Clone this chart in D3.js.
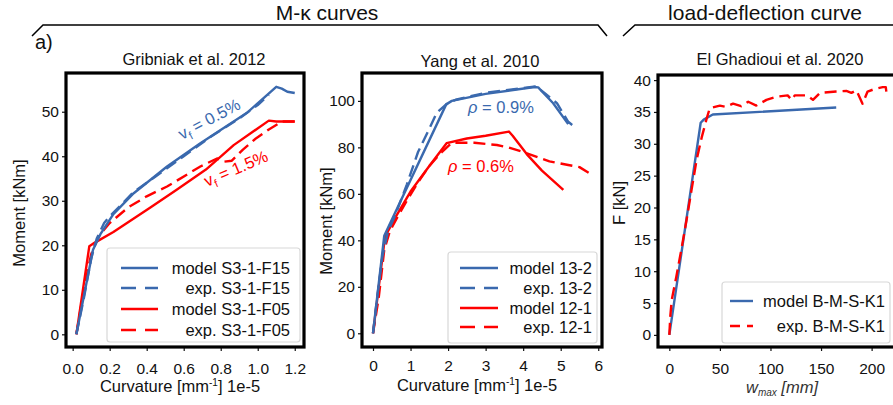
<!DOCTYPE html>
<html>
<head>
<meta charset="utf-8">
<script src="https://cdn.jsdelivr.net/npm/d3@7/dist/d3.min.js"></script>
<style>
  body { margin: 0; background: #fff; }
  text { font-family: "Liberation Sans", Arial, sans-serif; }
</style>
</head>
<body>
<div id="chart"></div>
<script>
// ---- Gribniak et al. 2012 (curvature 1e-5 1/mm, moment kNm)
const gribModelF15X = [0.02, 0.11, 0.15, 0.22, 0.33, 0.51, 0.69, 0.94, 1.10, 1.13, 1.16, 1.2];
const gribModelF15Y = [0, 19, 22.5, 27, 31.7, 37.7, 42.9, 49.7, 55.6, 55.2, 54.5, 54.2];
const gribExpF15X = [0.02, 0.06, 0.1, 0.13, 0.17, 0.2, 0.26, 0.33, 0.45, 0.6, 0.75, 0.9, 1.0, 1.06];
const gribExpF15Y = [0, 8, 17, 21.5, 25, 26.5, 29, 32, 35.5, 40, 44.5, 48.5, 51.5, 53.8];
const gribModelF05X = [0.02, 0.09, 0.12, 0.22, 0.42, 0.56, 0.72, 0.87, 1.06, 1.1, 1.2];
const gribModelF05Y = [0, 19.8, 20.6, 23, 28.5, 32.4, 37, 42.5, 48, 47.8, 47.8];
const gribExpF05X = [0.02, 0.06, 0.1, 0.14, 0.2, 0.3, 0.4, 0.51, 0.69, 0.78, 0.82, 0.86, 0.92, 0.99, 1.06, 1.13, 1.2];
const gribExpF05Y = [0, 10, 18, 22, 25, 28.5, 31, 33.2, 37.7, 39.5, 38.8, 39, 41.5, 44, 46, 47.8, 47.8];
const gribXTicks = [0, 0.2, 0.4, 0.6, 0.8, 1.0, 1.2];
const gribXTickLabels = ["0.0", "0.2", "0.4", "0.6", "0.8", "1.0", "1.2"];
const gribYTicks = [0, 10, 20, 30, 40, 50];

// ---- Yang et al. 2010
const yangModel132X = [0, 0.3, 1.95, 2.1, 3, 4.3, 4.4, 4.8, 5.2];
const yangModel132Y = [0, 42, 98.5, 100, 103, 106, 105.8, 99, 90];
const yangExp132X = [0, 0.1, 0.25, 0.4, 0.6, 0.9, 1.2, 1.5, 1.7, 1.95, 2.2, 2.6, 3, 3.5, 4, 4.35, 4.6, 4.9, 5.2, 5.42];
const yangExp132Y = [0, 14, 33, 44, 51, 64, 78, 88, 95, 98.5, 100.5, 102, 103.5, 104.5, 105.5, 106.2, 103, 99, 91, 88.2];
const yangModel121X = [0, 0.32, 0.6, 1, 1.5, 1.96, 2.5, 3, 3.62, 3.72, 4.1, 4.5, 5.07];
const yangModel121Y = [0, 41.6, 50, 61, 72, 81.8, 83.8, 85, 86.8, 85, 77, 70, 61.7];
const yangExp121X = [0, 0.15, 0.3, 0.45, 0.65, 0.9, 1.2, 1.5, 1.8, 2.1, 2.7, 3.3, 3.6, 4, 4.7, 5.2, 5.5, 5.8];
const yangExp121Y = [0, 15, 36, 44, 50, 57, 65, 72, 77.5, 82, 82, 81, 80, 78, 74, 72.4, 71.5, 68.5];
const yangXTicks = [0, 1, 2, 3, 4, 5, 6];
const yangYTicks = [0, 20, 40, 60, 80, 100];

// ---- El Ghadioui et al. 2020 (w_max mm, F kN)
const ghadModelX = [0, 31, 34, 43, 165];
const ghadModelY = [0, 33.3, 33.8, 34.6, 35.7];
const ghadExpX = [0, 1, 2.4, 7, 12, 17, 22, 27, 32, 37, 40, 45, 50, 56, 63, 71, 78, 86, 96, 106, 117, 121, 124, 136, 142, 149, 165, 175, 180, 185, 191, 196, 203, 211, 214, 215];
const ghadExpY = [0, 3, 5.5, 9.2, 13.5, 18, 22.8, 27.5, 31, 34, 35.6, 35.8, 36, 35.8, 36.3, 35.9, 36.6, 36, 36.9, 37.4, 37.6, 36.9, 37.6, 37.6, 36.9, 38, 38.2, 38.3, 38, 38.4, 36.3, 38.2, 38.6, 38.9, 38.9, 37.6];
const ghadXTicks = [0, 50, 100, 150, 200];
const ghadYTicks = [0, 5, 10, 15, 20, 25, 30, 35, 40];

const BLUE = "#3a69ae";
const RED = "#ff0000";
const INK = "#111";

const svg = d3.select("#chart").append("svg")
  .attr("width", 893)
  .attr("height", 405);

function zip(xs, ys) { return xs.map((x, i) => [x, ys[i]]); }

let clipId = 0;
function drawPanel(cfg) {
  const x = d3.scaleLinear().domain(cfg.xDomain).range([cfg.box.l, cfg.box.r]);
  const y = d3.scaleLinear().domain(cfg.yDomain).range([cfg.box.b, cfg.box.t]);

  const id = "clip" + (clipId++);
  svg.append("clipPath").attr("id", id)
    .append("rect")
    .attr("x", cfg.box.l).attr("y", cfg.box.t)
    .attr("width", cfg.box.r - cfg.box.l).attr("height", cfg.box.b - cfg.box.t);

  const line = d3.line().x(d => x(d[0])).y(d => y(d[1]));
  const plot = svg.append("g").attr("clip-path", `url(#${id})`);
  cfg.series.forEach(s => {
    plot.append("path")
      .attr("d", line(zip(s.x, s.y)))
      .attr("fill", "none")
      .attr("stroke", s.color)
      .attr("stroke-width", 2.4)
      .attr("stroke-dasharray", s.dash ? s.dash : null)
      .attr("stroke-linejoin", "round");
  });

  // axes
  const xAxis = svg.append("g")
    .attr("transform", `translate(0,${cfg.box.b})`)
    .call(d3.axisBottom(x).tickValues(cfg.xTicks).tickSize(4).tickPadding(cfg.xPad)
      .tickFormat((d, i) => cfg.xLabels ? cfg.xLabels[i] : d));
  const yAxis = svg.append("g")
    .attr("transform", `translate(${cfg.box.l},0)`)
    .call(d3.axisLeft(y).tickValues(cfg.yTicks).tickSize(4).tickPadding(3));
  [xAxis, yAxis].forEach(a => {
    a.select(".domain").remove();
    a.selectAll("line").attr("stroke", INK).attr("stroke-width", 1.2);
    a.selectAll("text").style("font-size", "15.5px").style("fill", INK)
      .style("font-family", '"Liberation Sans", Arial, sans-serif');
  });

  // frame
  svg.append("rect")
    .attr("x", cfg.box.l).attr("y", cfg.box.t)
    .attr("width", cfg.box.r - cfg.box.l).attr("height", cfg.box.b - cfg.box.t)
    .attr("fill", "none").attr("stroke", "#000").attr("stroke-width", 3.2);

  // title
  svg.append("text")
    .attr("x", cfg.titleX).attr("y", cfg.titleY)
    .attr("text-anchor", "middle")
    .style("font-size", "16.5px").style("fill", INK)
    .text(cfg.title);

  // y label
  svg.append("text")
    .attr("transform", `translate(${cfg.yLabelX},${cfg.yLabelY}) rotate(-90)`)
    .attr("text-anchor", "middle")
    .attr("dy", "0.35em")
    .style("font-size", "16.5px").style("fill", INK)
    .text(cfg.yLabel);

  // legend
  const lg = cfg.legend;
  svg.append("rect")
    .attr("x", lg.x0).attr("y", lg.y0)
    .attr("width", lg.x1 - lg.x0).attr("height", lg.y1 - lg.y0)
    .attr("rx", 3)
    .attr("fill", "#fff").attr("fill-opacity", 0.8)
    .attr("stroke", "#d8d8d8").attr("stroke-width", 1.2);
  lg.items.forEach((it, i) => {
    const yy = lg.rows[i];
    svg.append("line")
      .attr("x1", lg.s0).attr("x2", lg.s1)
      .attr("y1", yy).attr("y2", yy)
      .attr("stroke", it.color).attr("stroke-width", 2.4)
      .attr("stroke-dasharray", it.dash ? it.dash : null);
    svg.append("text")
      .attr("x", lg.textEnd).attr("y", yy)
      .attr("dy", "0.36em")
      .attr("text-anchor", "end")
      .style("font-size", "16.5px").style("fill", INK)
      .text(it.label);
  });

  return { x, y };
}

// panel 1
drawPanel({
  box: { l: 66, r: 304, t: 73, b: 347 },
  xDomain: [-0.036, 1.25], yDomain: [-2.85, 58.7],
  xTicks: gribXTicks, xLabels: gribXTickLabels, yTicks: gribYTicks, xPad: 12,
  title: "Gribniak et al. 2012", titleX: 194, titleY: 65,
  yLabel: "Moment [kNm]", yLabelX: 19, yLabelY: 213,
  series: [
    { x: gribModelF05X, y: gribModelF05Y, color: RED },
    { x: gribExpF05X, y: gribExpF05Y, color: RED, dash: "12,6" },
    { x: gribModelF15X, y: gribModelF15Y, color: BLUE },
    { x: gribExpF15X, y: gribExpF15Y, color: BLUE, dash: "12,6" }
  ],
  legend: {
    x0: 107, x1: 300, y0: 248, y1: 342, s0: 121, s1: 158, textEnd: 290,
    rows: [268, 288, 309, 330],
    items: [
      { label: "model S3-1-F15", color: BLUE },
      { label: "exp. S3-1-F15", color: BLUE, dash: "15,9" },
      { label: "model S3-1-F05", color: RED },
      { label: "exp. S3-1-F05", color: RED, dash: "15,9" }
    ]
  }
});

// panel 2
drawPanel({
  box: { l: 362, r: 602, t: 73, b: 347 },
  xDomain: [-0.293, 6.10], yDomain: [-5.9, 112.0],
  xTicks: yangXTicks, yTicks: yangYTicks, xPad: 9,
  title: "Yang et al. 2010", titleX: 480, titleY: 67,
  yLabel: "Moment [kNm]", yLabelX: 326, yLabelY: 221,
  series: [
    { x: yangModel121X, y: yangModel121Y, color: RED },
    { x: yangExp121X, y: yangExp121Y, color: RED, dash: "12,6" },
    { x: yangModel132X, y: yangModel132Y, color: BLUE },
    { x: yangExp132X, y: yangExp132Y, color: BLUE, dash: "12,6" }
  ],
  legend: {
    x0: 448, x1: 597, y0: 252, y1: 343, s0: 460, s1: 498, textEnd: 592,
    rows: [268, 288, 308, 327],
    items: [
      { label: "model 13-2", color: BLUE },
      { label: "exp. 13-2", color: BLUE, dash: "15,9" },
      { label: "model 12-1", color: RED },
      { label: "exp. 12-1", color: RED, dash: "15,9" }
    ]
  }
});

// panel 3
drawPanel({
  box: { l: 658, r: 905, t: 75, b: 347 },
  xDomain: [-11.2, 233], yDomain: [-1.9, 40.8],
  xTicks: ghadXTicks, yTicks: ghadYTicks, xPad: 12,
  title: "El Ghadioui et al. 2020", titleX: 780, titleY: 65,
  yLabel: "F [kN]", yLabelX: 619, yLabelY: 203,
  series: [
    { x: ghadModelX, y: ghadModelY, color: BLUE },
    { x: ghadExpX, y: ghadExpY, color: RED, dash: "12,6" }
  ],
  legend: {
    x0: 722, x1: 890, y0: 282, y1: 343, s0: 730, s1: 753, textEnd: 885,
    rows: [301, 326],
    items: [
      { label: "model B-M-S-K1", color: BLUE },
      { label: "exp. B-M-S-K1", color: RED, dash: "10,7" }
    ]
  }
});

// x labels
function curvatureLabel(cx, by) {
  const t = svg.append("text").attr("x", cx).attr("y", by)
    .attr("text-anchor", "middle").style("font-size", "16.5px").style("fill", INK);
  t.append("tspan").text("Curvature [mm");
  t.append("tspan").attr("dy", -6).style("font-size", "10px").text("-1");
  t.append("tspan").attr("dy", 6).text("] 1e-5");
}
curvatureLabel(180, 392);
curvatureLabel(477, 391);

const wl = svg.append("text").attr("x", 782).attr("y", 393)
  .attr("text-anchor", "middle").style("font-size", "16.5px")
  .style("font-style", "italic").style("fill", "#333");
wl.append("tspan").text("w");
wl.append("tspan").attr("dy", 3).style("font-size", "10px").text("max");
wl.append("tspan").attr("dy", -3).text(" [mm]");

// annotations
function vfLabel(px, py, angle, txt, color) {
  const t = svg.append("text")
    .attr("transform", `translate(${px},${py}) rotate(${angle})`)
    .style("font-size", "16.5px").style("fill", color);
  t.append("tspan").text("v");
  t.append("tspan").attr("dy", 4).style("font-size", "11px").text("f");
  t.append("tspan").attr("dy", -4).text(" = " + txt);
}
vfLabel(182, 140, -28, "0.5%", BLUE);
vfLabel(207, 187, -23, "1.5%", RED);

function rhoLabel(px, py, txt, color) {
  const t = svg.append("text").attr("x", px).attr("y", py)
    .style("font-size", "16.5px").style("fill", color);
  t.append("tspan").style("font-style", "italic").text("ρ");
  t.append("tspan").text(" = " + txt);
}
rhoLabel(468, 113, "0.9%", BLUE);
rhoLabel(448, 172, "0.6%", RED);

// header brackets
svg.append("path")
  .attr("d", "M32,36 L43,25 L598,25 L607,36")
  .attr("fill", "none").attr("stroke", "#000").attr("stroke-width", 1.5);
svg.append("path")
  .attr("d", "M623,36 L635,25 L900,25")
  .attr("fill", "none").attr("stroke", "#000").attr("stroke-width", 1.5);

svg.append("text").attr("x", 327).attr("y", 20)
  .attr("text-anchor", "middle").style("font-size", "21px").style("fill", INK).text("M-κ curves");
svg.append("text").attr("x", 765).attr("y", 20)
  .attr("text-anchor", "middle").style("font-size", "21px").style("fill", INK).text("load-deflection curve");
svg.append("text").attr("x", 35).attr("y", 49)
  .style("font-size", "20px").style("fill", INK).text("a)");
</script>
</body>
</html>
